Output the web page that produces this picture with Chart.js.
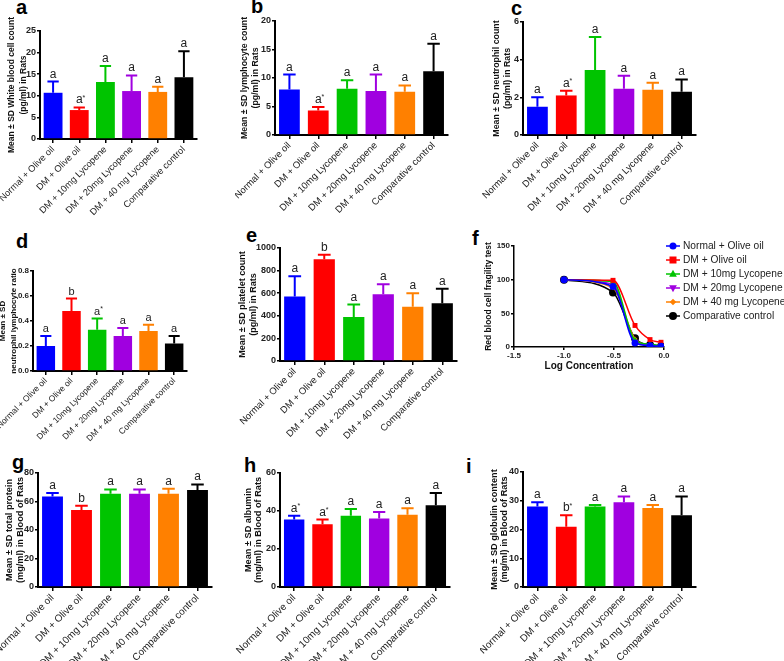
<!DOCTYPE html>
<html><head><meta charset="utf-8">
<script src="https://cdn.jsdelivr.net/npm/chart.js@4/dist/chart.umd.min.js"></script>
<style>
body{margin:0;background:#fff;width:784px;height:661px;position:relative;overflow:hidden;font-family:"Liberation Sans",Arial,sans-serif}
canvas{position:absolute}
.lt{position:absolute;font:bold 20px "Liberation Sans",Arial,sans-serif;line-height:20px;color:#000;margin:0}
</style></head><body>
<div class="lt" style="left:16px;top:-3px">a</div>
<div class="lt" style="left:251px;top:-4px">b</div>
<div class="lt" style="left:511px;top:-2px">c</div>
<div class="lt" style="left:16px;top:231px">d</div>
<div class="lt" style="left:246px;top:225px">e</div>
<div class="lt" style="left:472px;top:228px">f</div>
<div class="lt" style="left:12px;top:452px">g</div>
<div class="lt" style="left:244px;top:455px">h</div>
<div class="lt" style="left:466px;top:456px">i</div>
<script>
// ---------- DATA ----------
const groups = ['Normal + Olive oil','DM + Olive oil','DM + 10mg Lycopene','DM + 20mg Lycopene','DM + 40 mg Lycopene','Comparative control'];

const wbcMean = [10.7, 6.7, 13.2, 11.1, 10.9, 14.3];
const wbcSD   = [2.6, 0.6, 3.7, 3.6, 1.2, 6.0];
const wbcSig  = ['a','a*','a','a','a','a'];
const wbcTicks = [0,5,10,15,20,25];

const lymMean = [8.0, 4.3, 8.1, 7.7, 7.6, 11.2];
const lymSD   = [2.6, 0.6, 1.5, 2.9, 1.1, 4.8];
const lymSig  = ['a','a*','a','a','a','a'];
const lymTicks = [0,5,10,15,20];

const neuMean = [1.5, 2.1, 3.45, 2.45, 2.4, 2.3];
const neuSD   = [0.5, 0.25, 1.75, 0.7, 0.38, 0.65];
const neuSig  = ['a','a*','a','a','a','a'];
const neuTicks = [0,2,4,6];

const nlrMean = [0.20, 0.48, 0.33, 0.28, 0.32, 0.22];
const nlrSD   = [0.08, 0.10, 0.09, 0.065, 0.05, 0.06];
const nlrSig  = ['a','b','a*','a','a','a'];
const nlrTicks = [0.0,0.2,0.4,0.6,0.8];

const pltMean = [570, 900, 390, 590, 480, 510];
const pltSD   = [180, 40, 110, 90, 120, 130];
const pltSig  = ['a','b','a','a','a','a'];
const pltTicks = [0,200,400,600,800,1000];

const logConc = [-1.0, -0.51, -0.29, -0.14, -0.03];
const fragNormal = [100, 90, 6, 2, 1];
const fragDM     = [100, 99, 32, 11, 7];
const frag10     = [100, 97, 10, 4, 2];
const frag20     = [100, 93, 8, 3, 1];
const frag40     = [100, 88, 12, 3, 2];
const fragComp   = [100, 81, 13, 3, 1];
const fragYTicks = [0,50,100,150];
const fragXTicks = [-1.5,-1.0,-0.5,0.0];

const tpMean = [63.5, 54, 65.5, 65.5, 65.5, 68];
const tpSD   = [2.5, 3, 3, 3, 3.5, 4];
const tpSig  = ['a','b','a','a','a','a'];
const tpTicks = [0,20,40,60,80];

const albMean = [35.5, 33, 37.5, 36, 38, 43];
const albSD   = [2, 2.5, 3.5, 3.5, 3.5, 6.5];
const albSig  = ['a*','a*','a','a','a','a'];
const albTicks = [0,20,40,60];

const gloMean = [28, 21, 28, 29.5, 27.5, 25];
const gloSD   = [1.5, 4, 0.5, 2, 1, 6.5];
const gloSig  = ['a','b*','a','a','a','a'];
const gloTicks = [0,10,20,30,40];

// ---------- STYLE ----------
const groupColors = ['#0000ff','#ff0000','#00c400','#a000e0','#ff8000','#000000'];
const FF = '"Liberation Sans", Arial, sans-serif';

const errPlugin = {
  id: 'err',
  afterDatasetsDraw(chart) {
    const ds = chart.data.datasets[0];
    if (!ds.sd) return;
    const meta = chart.getDatasetMeta(0);
    const ys = chart.scales.y;
    const ctx = chart.ctx;
    const fs = ds.sigFont || 12;
    meta.data.forEach((bar, i) => {
      const top = ys.getPixelForValue(ds.data[i] + ds.sd[i]);
      const col = ds.backgroundColor[i];
      ctx.save();
      ctx.strokeStyle = col; ctx.lineWidth = 2;
      ctx.beginPath();
      ctx.moveTo(bar.x, bar.y); ctx.lineTo(bar.x, top);
      const hw = bar.width * 0.3;
      ctx.moveTo(bar.x - hw, top); ctx.lineTo(bar.x + hw, top);
      ctx.stroke();
      const s = ds.sig[i];
      const base = s.replace('*', '');
      ctx.fillStyle = '#222';
      ctx.font = fs + 'px ' + FF;
      ctx.textAlign = 'center'; ctx.textBaseline = 'alphabetic';
      ctx.fillText(base, bar.x, top - 4);
      if (s.includes('*')) {
        const w = ctx.measureText(base).width;
        ctx.font = Math.round(fs * 0.6) + 'px ' + FF;
        ctx.textAlign = 'left';
        ctx.fillText('*', bar.x + w / 2, top - 4 - fs * 0.3);
      }
      ctx.restore();
    });
  }
};

function makeCanvas(L, T, R, B) {
  const c = document.createElement('canvas');
  c.width = R - L; c.height = B - T;
  c.style.left = L + 'px'; c.style.top = T + 'px';
  c.style.width = (R - L) + 'px'; c.style.height = (B - T) + 'px';
  document.body.appendChild(c);
  return c;
}

function barPanel(g, mean, sd, sig, ticks, title) {
  const c = makeCanvas(g.L, g.T, g.R, g.B);
  const tf = g.tf || 9, lhPx = g.lh || 12, lh = lhPx / tf;
  const dec = g.dec || 0;
  new Chart(c, {
    type: 'bar',
    data: {
      labels: groups,
      datasets: [{ data: mean, sd: sd, sig: sig, sigFont: g.sf || 12,
        backgroundColor: groupColors, borderWidth: 0,
        barPercentage: 0.72, categoryPercentage: 1 }]
    },
    options: {
      responsive: false, animation: false, devicePixelRatio: 1,
      layout: { padding: { left: 0, top: g.t - g.T, right: g.R - g.r, bottom: 0 } },
      plugins: { legend: { display: false }, tooltip: { enabled: false } },
      scales: {
        x: {
          offset: true,
          grid: { display: true, drawOnChartArea: false, drawTicks: true, tickLength: 4, color: '#000', lineWidth: 1.5, offset: false },
          border: { color: '#000', width: 2 },
          ticks: { autoSkip: false, minRotation: 45, maxRotation: 45, padding: 1, color: '#222', font: { family: FF, size: g.xf || 9.5 } },
          afterFit(s) { s.height = g.B - g.b; s.paddingLeft = 0; s.paddingRight = 0; }
        },
        y: {
          min: ticks[0], max: ticks[ticks.length - 1],
          afterBuildTicks(s) { s.ticks = ticks.map(v => ({ value: v })); },
          grid: { display: true, drawOnChartArea: false, drawTicks: true, tickLength: 3, color: '#000', lineWidth: 1.5 },
          border: { color: '#000', width: 2 },
          ticks: { padding: 1, color: '#222', font: { family: FF, size: g.yf || 9, weight: 'bold' },
            callback: v => Number(v).toFixed(dec) },
          title: { display: true, text: title, color: '#111',
            font: { family: FF, size: tf, weight: 'bold', lineHeight: lh },
            padding: { top: g.tx - g.L - lhPx / 2, bottom: 0 } },
          afterFit(s) { s.width = g.l - g.L; s.paddingTop = 0; s.paddingBottom = 0; }
        }
      }
    },
    plugins: [errPlugin]
  });
}

barPanel({L:0,T:0,R:210,B:230,l:40,t:31,r:197,b:139,tx:12,tf:8.5,lh:11.5,xf:9.3}, wbcMean, wbcSD, wbcSig, wbcTicks,
  ['Mean ± SD White blood cell count','(pg/ml) in Rats']);
barPanel({L:235,T:0,R:455,B:230,l:275,t:21,r:448,b:135,tx:245,tf:8.8,lh:11}, lymMean, lymSD, lymSig, lymTicks,
  ['Mean ± SD lymphocyte count','(pg/ml) in Rats']);
barPanel({L:480,T:0,R:705,B:230,l:523,t:22,r:696,b:135,tx:497,tf:8.8,lh:11}, neuMean, neuSD, neuSig, neuTicks,
  ['Mean ± SD neutrophil count','(pg/ml) in Rats']);
barPanel({L:0,T:235,R:195,B:445,l:33,t:271,r:187,b:371,tx:3,tf:8,lh:10.5,yf:8,xf:8.5,sf:11,dec:1}, nlrMean, nlrSD, nlrSig, nlrTicks,
  ['Mean ± SD','neutrophil lymphocyte ratio']);
barPanel({L:236,T:228,R:465,B:445,l:280,t:248,r:457,b:361,tx:243,tf:9,lh:10.5}, pltMean, pltSD, pltSig, pltTicks,
  ['Mean ± SD platelet count','(pg/ml) in Rats']);
barPanel({L:0,T:450,R:220,B:661,l:38,t:473,r:212,b:587,tx:9.5,tf:9.2,lh:10.5,xf:10}, tpMean, tpSD, tpSig, tpTicks,
  ['Mean ± SD total protein','(mg/ml) in Blood of Rats']);
barPanel({L:235,T:450,R:460,B:661,l:280,t:473,r:450,b:587,tx:248,tf:9.2,lh:10.5,xf:10}, albMean, albSD, albSig, albTicks,
  ['Mean ± SD albumin','(mg/ml) in Blood of Rats']);
barPanel({L:480,T:450,R:705,B:661,l:523,t:472,r:696,b:587,tx:494,tf:9.2,lh:10.5,xf:10}, gloMean, gloSD, gloSig, gloTicks,
  ['Mean ± SD globulin content','(mg/ml) in Blood of Rats']);

// ---------- Panel f ----------
const fragSeries = [
  { label: groups[0], values: fragNormal, style: 'circle', rot: 0, r: 3.5 },
  { label: groups[1], values: fragDM, style: 'rect', rot: 0, r: 3.5 },
  { label: groups[2], values: frag10, style: 'triangle', rot: 0, r: 3.5 },
  { label: groups[3], values: frag20, style: 'triangle', rot: 180, r: 3.5 },
  { label: groups[4], values: frag40, style: 'rectRot', rot: 0, r: 2.5 },
  { label: groups[5], values: fragComp, style: 'circle', rot: 0, r: 4 }
];
const fg = { L: 476, T: 228, R: 784, B: 380, l: 514, t: 246, r: 664, b: 347 };

function drawMarker(ctx, style, rot, r, x, y, col) {
  ctx.save(); ctx.fillStyle = col; ctx.translate(x, y); ctx.rotate(rot * Math.PI / 180);
  ctx.beginPath();
  if (style === 'circle') ctx.arc(0, 0, r, 0, Math.PI * 2);
  else if (style === 'rect') ctx.rect(-r, -r, 2 * r, 2 * r);
  else if (style === 'triangle') { ctx.moveTo(0, -r * 1.2); ctx.lineTo(r * 1.1, r * 0.8); ctx.lineTo(-r * 1.1, r * 0.8); ctx.closePath(); }
  else if (style === 'rectRot') { ctx.moveTo(0, -r * 1.3); ctx.lineTo(r * 1.3, 0); ctx.lineTo(0, r * 1.3); ctx.lineTo(-r * 1.3, 0); ctx.closePath(); }
  ctx.fill(); ctx.restore();
}

const legendPlugin = {
  id: 'flegend',
  afterDraw(chart) {
    const ctx = chart.ctx;
    const x0 = 666 - fg.L, y0 = 246 - fg.T;
    fragSeries.forEach((s, i) => {
      const y = y0 + i * 14;
      const col = groupColors[i];
      ctx.save();
      ctx.strokeStyle = col; ctx.lineWidth = 1.5;
      ctx.beginPath(); ctx.moveTo(x0, y); ctx.lineTo(x0 + 14, y); ctx.stroke();
      drawMarker(ctx, s.style, s.rot, s.r, x0 + 7, y, col);
      ctx.fillStyle = '#222'; ctx.font = '10.2px ' + FF; ctx.textAlign = 'left'; ctx.textBaseline = 'middle';
      ctx.fillText(s.label, x0 + 17, y + 0.5);
      ctx.restore();
    });
  }
};

new Chart(makeCanvas(fg.L, fg.T, fg.R, fg.B), {
  type: 'line',
  data: {
    datasets: fragSeries.map((s, i) => ({
      label: s.label,
      data: logConc.map((x, k) => ({ x: x, y: s.values[k] })),
      borderColor: groupColors[i], backgroundColor: groupColors[i],
      borderWidth: 1.5, pointStyle: s.style, pointRotation: s.rot, pointRadius: s.r,
      pointBorderWidth: 0, cubicInterpolationMode: 'monotone', fill: false
    }))
  },
  options: {
    responsive: false, animation: false, devicePixelRatio: 1,
    layout: { padding: { left: 0, top: fg.t - fg.T, right: fg.R - fg.r, bottom: 0 } },
    plugins: { legend: { display: false }, tooltip: { enabled: false } },
    scales: {
      x: {
        type: 'linear', min: fragXTicks[0], max: fragXTicks[fragXTicks.length - 1],
        afterBuildTicks(s) { s.ticks = fragXTicks.map(v => ({ value: v })); },
        grid: { display: true, drawOnChartArea: false, drawTicks: true, tickLength: 3, color: '#000', lineWidth: 1.5 },
        border: { color: '#000', width: 1.5 },
        ticks: { padding: 1, maxRotation: 0, color: '#222', font: { family: FF, size: 8, weight: 'bold' }, callback: v => Number(v).toFixed(1) },
        title: { display: true, text: 'Log Concentration', color: '#111', font: { family: FF, size: 10, weight: 'bold', lineHeight: 1.1 }, padding: { top: 0, bottom: 8 } },
        afterFit(s) { s.height = fg.B - fg.b; s.paddingLeft = 0; s.paddingRight = 0; }
      },
      y: {
        min: fragYTicks[0], max: fragYTicks[fragYTicks.length - 1],
        afterBuildTicks(s) { s.ticks = fragYTicks.map(v => ({ value: v })); },
        grid: { display: true, drawOnChartArea: false, drawTicks: true, tickLength: 3, color: '#000', lineWidth: 1.5 },
        border: { color: '#000', width: 1.5 },
        ticks: { padding: 1, color: '#222', font: { family: FF, size: 8, weight: 'bold' } },
        title: { display: true, text: 'Red blood cell fragility test', color: '#111', font: { family: FF, size: 8.5, weight: 'bold', lineHeight: 1.1 }, padding: { top: 8.3, bottom: 0 } },
        afterFit(s) { s.width = fg.l - fg.L; s.paddingTop = 0; s.paddingBottom = 0; }
      }
    }
  },
  plugins: [legendPlugin]
});
</script>
</body></html>
